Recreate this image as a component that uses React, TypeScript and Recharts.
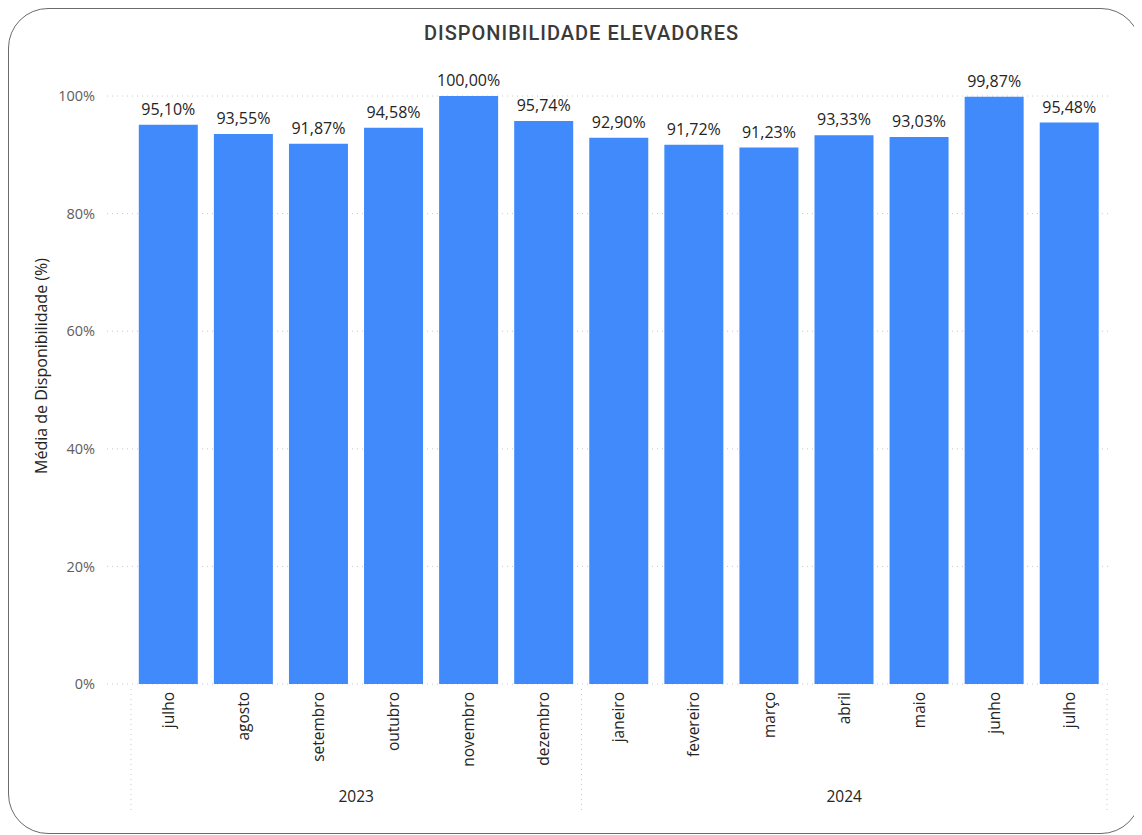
import React from 'react';
import { BarChart, Bar, XAxis, YAxis, CartesianGrid, LabelList } from 'recharts';

const meses = ['julho', 'agosto', 'setembro', 'outubro', 'novembro', 'dezembro', 'janeiro', 'fevereiro', 'março', 'abril', 'maio', 'junho', 'julho'];
const anos = ['2023', '2023', '2023', '2023', '2023', '2023', '2024', '2024', '2024', '2024', '2024', '2024', '2024'];
const disponibilidade = [95.1, 93.55, 91.87, 94.58, 100.0, 95.74, 92.9, 91.72, 91.23, 93.33, 93.03, 99.87, 95.48];
const yTicks = [0, 20, 40, 60, 80, 100];

const data = meses.map((mes, i) => ({ key: `${anos[i]}-${i}`, mes, ano: anos[i], valor: disponibilidade[i] }));

const FONT = '"Segoe UI", "Open Sans", "Noto Sans", sans-serif';

const fmtPct = (v: number) => v.toFixed(2).replace('.', ',') + '%';

// month label rotated, plus year group labels and dotted separators
const MonthTick = (props: any) => {
  const { x, y, payload } = props;
  const i = payload.index;
  const half = payload.offset ?? 37.5;
  const band = half * 2;
  const ano = anos[i];
  const isStart = i === 0 || anos[i - 1] !== ano;
  const isEnd = i === anos.length - 1;
  let groupSize = 0;
  if (isStart) {
    for (let j = i; j < anos.length && anos[j] === ano; j++) groupSize++;
  }
  return (
    <g>
      <text
        x={x}
        y={y + 8}
        transform={`rotate(-90, ${x}, ${y + 8})`}
        textAnchor="end"
        dy="0.35em"
        fontSize={15.5}
        fill="#252423"
        fontFamily={FONT}
      >
        {payload.value}
      </text>
      {isStart && (
        <>
          <line x1={x - half} x2={x - half} y1={y + 5} y2={y + 128} stroke="#c8c8c8" strokeDasharray="1 4" />
          <text
            x={x + ((groupSize - 1) / 2) * band}
            y={y + 118}
            textAnchor="middle"
            fontSize={15.5}
            fill="#252423"
            fontFamily={FONT}
          >
            {ano}
          </text>
        </>
      )}
      {isEnd && (
        <line x1={x + half} x2={x + half} y1={y + 5} y2={y + 128} stroke="#c8c8c8" strokeDasharray="1 4" />
      )}
    </g>
  );
};

const YLabel = (props: any) => {
  const { x, y, height } = props.viewBox;
  const cx = x + 12;
  const cy = y + height / 2 - 24;
  return (
    <text
      x={cx}
      y={cy}
      transform={`rotate(-90, ${cx}, ${cy})`}
      textAnchor="middle"
      dy="0.35em"
      fontSize={16}
      fill="#252423"
      fontFamily={FONT}
    >
      Média de Disponibilidade (%)
    </text>
  );
};

export default function App() {
  return (
    <div
      style={{
        position: 'relative',
        width: 1133,
        height: 826,
        border: '1.5px solid #6b6b6b',
        borderRadius: 40,
        background: '#fff',
        boxSizing: 'border-box',
        overflow: 'hidden',
      }}
    >
      <div
        style={{
          position: 'absolute',
          top: 12,
          left: 6,
          width: 1133,
          textAlign: 'center',
          fontFamily: 'Roboto, "DejaVu Sans", sans-serif',
          fontWeight: 500,
          fontSize: 20,
          letterSpacing: 1,
          color: '#3a3a3a',
        }}
      >
        DISPONIBILIDADE ELEVADORES
      </div>
      <div style={{ position: 'absolute', left: 0, top: 0 }}>
        <BarChart
          width={1130}
          height={820}
          data={data}
          margin={{ top: 87, right: 30, bottom: 15, left: 20 }}
          barCategoryGap="10.4%"
        >
          <CartesianGrid vertical={false} stroke="#c8c8c8" strokeDasharray="1 4" />
          <XAxis
            dataKey="mes"
            interval={0}
            axisLine={false}
            tickLine={false}
            tickSize={0}
            tickMargin={0}
            height={130}
            padding={{ left: 24, right: 2 }}
            tick={<MonthTick />}
          />
          <YAxis
            width={78}
            domain={[0, 100]}
            ticks={yTicks}
            axisLine={false}
            tickLine={false}
            tickSize={0}
            tickMargin={12}
            tickFormatter={(v: number) => `${v}%`}
            tick={{ fontSize: 14.5, fill: '#605e5c', fontFamily: FONT }}
            label={<YLabel />}
          />
          <Bar dataKey="valor" fill="#418afb" isAnimationActive={false}>
            <LabelList
              dataKey="valor"
              position="top"
              offset={10}
              formatter={(v: any) => fmtPct(Number(v))}
              style={{ fontSize: 16, fill: '#252423', fontFamily: FONT }}
            />
          </Bar>
        </BarChart>
      </div>
    </div>
  );
}
